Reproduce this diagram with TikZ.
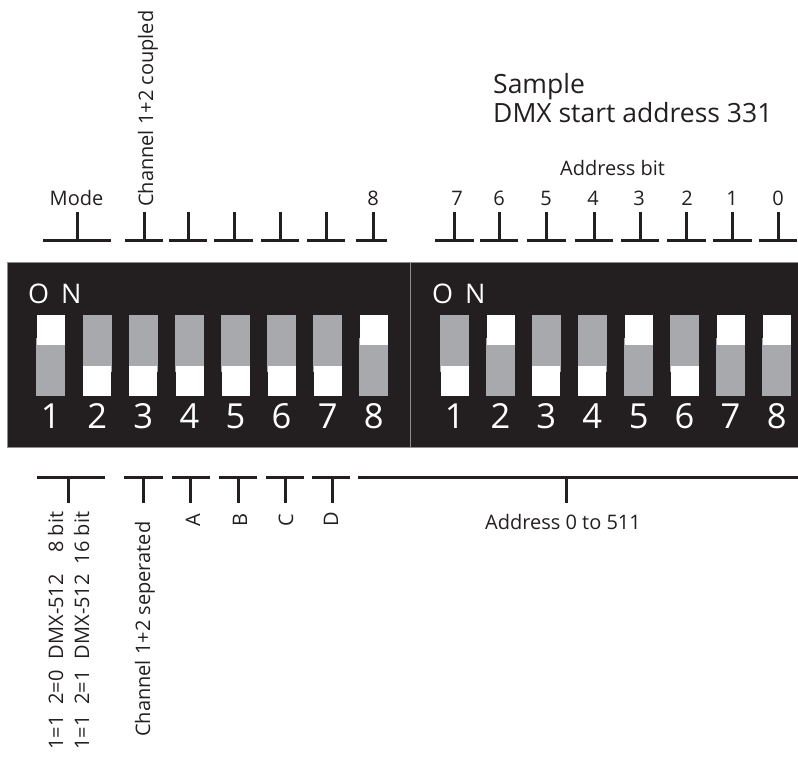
\documentclass[tikz,border=0pt]{standalone}
\usepackage{fontspec}
\setmainfont{Open Sans}
\definecolor{ink}{HTML}{231F20}
\definecolor{slot}{HTML}{A7A9AC}
\definecolor{edge}{HTML}{8A8C8E}
\begin{document}
\begin{tikzpicture}[x=1pt,y=-1pt,
  lbl/.style={inner sep=0pt, text=ink, font=\fontsize{20}{24}\selectfont},
  rlbl/.style={lbl, rotate=90, anchor=base west},
  titletext/.style={inner sep=0pt, text=ink, font=\fontsize{26.5}{32}\selectfont, anchor=base west},
  digit/.style={inner sep=0pt, text=white, font=\fontsize{34.5}{38}\selectfont, anchor=base},
  ontext/.style={inner sep=0pt, text=white, font=\fontsize{27}{30}\selectfont, anchor=base west},
  bracket/.style={draw=ink, line width=3pt},
  ]
\useasboundingbox (0,0) rectangle (798,756);

% titles
\node[titletext] (t1) at (493,93) {Sample};
\node[titletext] (t2) at (493,122) {DMX start address 331};
\node[lbl, anchor=base] (abit) at (612.5,175) {Address bit};

% top labels
\node[lbl, anchor=base] (mode) at (76.5,205) {Mode};
\node[rlbl] (coupled) at (153,207) {Channel 1+2 coupled};
\node[lbl, anchor=base] (n8) at (373,205) {8};
\foreach \x/\t in {457/7,499/6,546/5,593/4,639/3,687/2,732/1,778/0}
  \node[lbl, anchor=base] (b\t) at (\x,205) {\t};

% top brackets
\foreach \l/\r/\m in {43/111/77,125/163/144,169/207/188,214/253/234,261/299/280,307/345/326,356/387/373,
  435/474/454.5,480/518/499,527/566/546.5,575/613/594,621/659/640,667/706/686,713/752/732,759/797/778}
{
  \draw[bracket] (\l,240) -- (\r,240);
  \draw[bracket] (\m,212) -- (\m,240);
}

% switch body
\fill[ink] (7,262) rectangle (798,447);
\draw[edge, line width=0.6pt] (7,262) rectangle (798,447);
\draw[edge, line width=0.8pt] (410.5,262) -- (410.5,447);

\node[ontext] (onl) at (28,303) {O\hspace{12pt}N};
\node[ontext] (onr) at (432,303) {O\hspace{12pt}N};

% switches
\foreach \c/\s [count=\i] in {50.8/1,97.2/0,143.3/0,189.5/0,235.5/0,281.5/0,327.8/0,373.8/1,
  454.7/0,500.5/1,546.3/0,592.2/0,638.7/1,684.5/0,730.5/1,776.7/1}
{
  \ifnum\s=1
    \fill[slot] (\c-14.5,338) rectangle (\c+14.5,396);
    \fill[white] (\c-14,315) rectangle (\c+14,345);
  \else
    \fill[slot] (\c-14.5,315) rectangle (\c+14.5,372);
    \fill[white] (\c-14,366) rectangle (\c+14,396);
  \fi
}
\foreach \c/\t in {50.8/1,97.2/2,143.3/3,189.5/4,235.5/5,281.5/6,327.8/7,373.8/8}
  \node[digit] (dl\t) at (\c,428) {\t};
\foreach \c/\t in {454.7/1,500.5/2,546.3/3,592.2/4,638.7/5,684.5/6,730.5/7,776.7/8}
  \node[digit] (dr\t) at (\c,428) {\t};

% bottom brackets
\foreach \l/\r/\m in {37/105/68,124/163/143,172/210/190,219/257/238,266/304/285,312/350/332,358/798/566}
{
  \draw[bracket] (\l,477) -- (\r,477);
  \draw[bracket] (\m,477) -- (\m,503);
}

% bottom labels
\node[rlbl] (m1) at (63,750) {1=1\hspace{0.55em}2=0\hspace{0.55em}DMX-512\hspace{0.5em}\phantom{1}8 bit};
\node[rlbl] (m2) at (89,750) {1=1\hspace{0.55em}2=1\hspace{0.55em}DMX-512\hspace{0.5em}16 bit};
\node[rlbl] (sep) at (150,737) {Channel 1+2 seperated};
\node[rlbl] (la) at (200,527) {A};
\node[rlbl] (lb) at (247,527) {B};
\node[rlbl] (lc) at (293,527) {C};
\node[rlbl] (ld) at (338,527) {D};
\node[lbl, anchor=base] (addr) at (563,529) {Address 0 to 511};
\end{tikzpicture}
\end{document}
